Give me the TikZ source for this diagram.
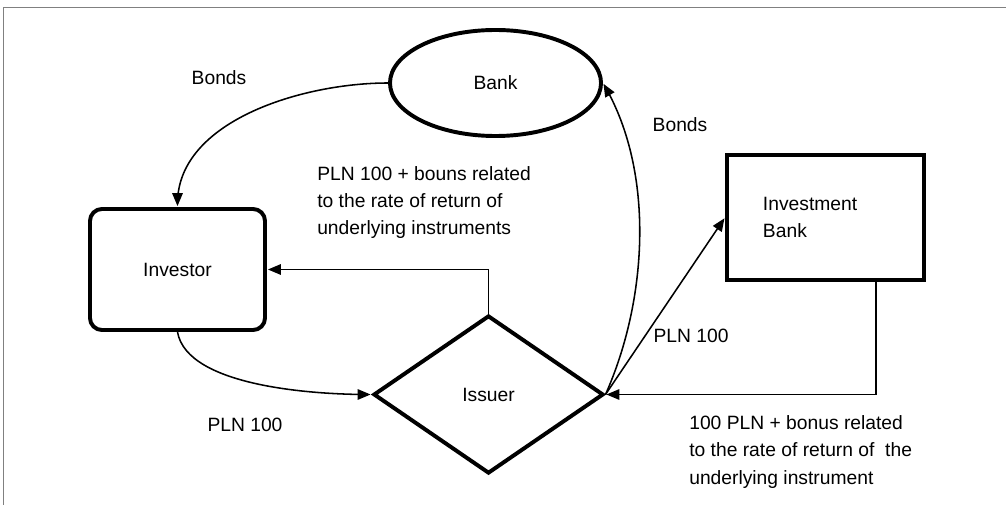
\documentclass[tikz,border=0pt]{standalone}
\usepackage{fontspec}
\setmainfont{Liberation Sans}
\usepackage[usenames]{xcolor}
\usepackage{tikz}
\usetikzlibrary{arrows,shapes.geometric}

\begin{document}
\begin{tikzpicture}[x=0.025cm,y=-0.025cm,
    font=\fontsize{13.7}{19.2}\selectfont,
    party/.style={draw=black,line width=2.8pt,inner sep=0pt},
    tag/.style={inner sep=0pt,align=left}]
\useasboundingbox (0,0) rectangle (1006,505);
\draw[gray,line width=0.9pt] (3.5,505) -- (3.5,7.5) -- (1006,7.5);

\node[party,ellipse,minimum width=5.275cm,minimum height=2.65cm] (bank) at (495.5,83) {Bank};
\node[party,rectangle,rounded corners=0.3cm,minimum width=4.375cm,minimum height=3.025cm] (investor) at (177.5,269.5) {Investor};
\node[party,diamond,minimum width=5.75cm,minimum height=3.95cm] (issuer) at (488.5,394.5) {Issuer};
\node[party,rectangle,align=left,inner xsep=0.9cm,text width=3.125cm,minimum width=4.925cm,minimum height=3.125cm] (ibank) at (825.5,217.5) {Investment\\Bank};

\node[tag] (bondsleft) at (219,78) {Bonds};
\node[tag] (bondsright) at (680,125) {Bonds};
\node[tag,anchor=west] (payback) at (317,203) {PLN 100 + bouns related\\to the rate of return of\\underlying instruments};
\node[tag] (payin) at (245,425) {PLN 100};
\node[tag] (payout) at (691,336) {PLN 100};
\node[tag,anchor=west,font=\fontsize{13.7}{19.9}\selectfont] (ibpay) at (689,452) {100 PLN + bonus related\\to the rate of return of~ the\\underlying instrument};

\begin{scope}[>=triangle 45,shorten >=0.01in,line width=1.1pt]
    \draw[->] (bank.west) to[out=180,in=90,looseness=0.9] (investor.north);
    \draw[->] (issuer.north) |- (investor.east);
    \draw[->] (investor.south) to[out=-80,in=180,looseness=0.7] (issuer.west);
    \draw[->] (issuer.east) to[out=66,in=-60,looseness=0.85] (bank.east);
    \draw[->] (issuer.east) -- (ibank.west);
    \draw[->] ([xshift=1.26cm]ibank.south) |- (issuer.east);
\end{scope}
\end{tikzpicture}
\end{document}
